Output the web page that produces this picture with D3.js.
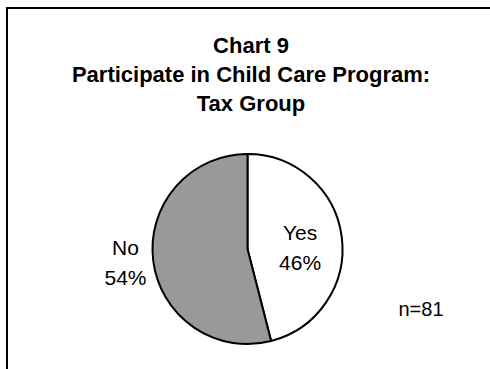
<!DOCTYPE html>
<html>
<head>
<meta charset="utf-8">
<script src="https://cdn.jsdelivr.net/npm/d3@7"></script>
<style>
  html, body { margin: 0; padding: 0; background: #fff; }
  svg { display: block; }
  text { font-family: "Liberation Sans", Arial, sans-serif; fill: #000; }
</style>
</head>
<body>
<svg id="chart" width="490" height="369"></svg>
<script>
// Chart content
const titleLines = ["Chart 9", "Participate in Child Care Program:", "Tax Group"];
const categories = ["Yes", "No"];
const percents = [46, 54];
const sliceColors = ["#ffffff", "#999999"];
const sampleNote = "n=81";

const W = 490, H = 369;
const svg = d3.select("#chart");

// Outer frame (runs off the right and bottom edges)
svg.append("rect")
  .attr("x", 7).attr("y", 8)
  .attr("width", W + 20).attr("height", H + 20)
  .attr("fill", "none").attr("stroke", "#000").attr("stroke-width", 2);

// Title block
const title = svg.append("g").attr("transform", "translate(251,53)");
title.selectAll("text")
  .data(titleLines)
  .join("text")
  .attr("y", (d, i) => i * 29)
  .attr("text-anchor", "middle")
  .attr("font-weight", "bold")
  .attr("font-size", 22)
  .text(d => d);

// Pie
const cx = 247.5, cy = 249, R = 95;
const data = categories.map((c, i) => ({ cat: c, pct: percents[i], color: sliceColors[i] }));
const pie = d3.pie().sort(null).value(d => d.pct).startAngle(0).endAngle(2 * Math.PI);
const arcs = pie(data);
const arc = d3.arc().innerRadius(0).outerRadius(R);

const g = svg.append("g").attr("transform", `translate(${cx},${cy})`);
g.selectAll("path")
  .data(arcs)
  .join("path")
  .attr("d", arc)
  .attr("fill", d => d.data.color)
  .attr("stroke", "#000")
  .attr("stroke-width", 2)
  .attr("stroke-linejoin", "round");

// Slice labels: inside for "Yes", outside for "No"
const labelRadius = { Yes: 53, No: 123 };
const labelNudge = { Yes: 4, No: -3 };
const labelPos = d => {
  const r = labelRadius[d.data.cat];
  const [x, y] = d3.arc().innerRadius(r).outerRadius(r).centroid(d);
  return [x, y + labelNudge[d.data.cat]];
};
const labels = g.selectAll("g.lbl")
  .data(arcs)
  .join("g")
  .attr("class", "lbl")
  .attr("transform", d => `translate(${labelPos(d)})`);
labels.append("text")
  .attr("text-anchor", "middle")
  .attr("font-size", 21)
  .attr("y", -6.5)
  .text(d => d.data.cat);
labels.append("text")
  .attr("text-anchor", "middle")
  .attr("font-size", 21)
  .attr("y", 23.5)
  .text(d => d.data.pct + "%");

// Sample size note
svg.append("text")
  .attr("x", 421).attr("y", 316)
  .attr("text-anchor", "middle")
  .attr("font-size", 20)
  .text(sampleNote);
</script>
</body>
</html>
